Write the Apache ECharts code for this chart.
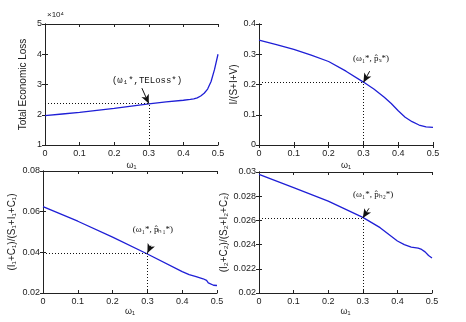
<!DOCTYPE html>
<html>
<head>
<meta charset="utf-8">
<script src="https://cdn.jsdelivr.net/npm/echarts@6/dist/echarts.min.js"></script>
<style>
  html, body { margin: 0; padding: 0; background: #fff; }
  #chart { width: 466px; height: 322px; }
</style>
</head>
<body>
<div id="chart"></div>
<script>
// 各子图数据 (ω1 取值与对应的纵坐标)
const omegaLoss = [0, 0.05, 0.1, 0.15, 0.2, 0.25, 0.3, 0.35, 0.4, 0.42, 0.43, 0.44, 0.45, 0.46, 0.47, 0.48, 0.49, 0.5];
const totalLoss = [1.97, 2.025, 2.08, 2.145, 2.21, 2.285, 2.36, 2.425, 2.48, 2.505, 2.525, 2.56, 2.62, 2.71, 2.85, 3.1, 3.5, 4.0]; // ×10^4

const omegaPs = [0, 0.05, 0.1, 0.15, 0.2, 0.25, 0.3, 0.33, 0.36, 0.38, 0.4, 0.42, 0.44, 0.46, 0.48, 0.5];
const infectedRatio = [0.347, 0.332, 0.316, 0.297, 0.276, 0.244, 0.208, 0.185, 0.158, 0.137, 0.113, 0.092, 0.077, 0.066, 0.06, 0.058];

const omegaH1 = [0, 0.1, 0.2, 0.3, 0.4, 0.42, 0.44, 0.46, 0.47, 0.475, 0.48, 0.49, 0.5];
const ratioH1 = [0.0625, 0.0553, 0.0475, 0.0392, 0.0305, 0.029, 0.028, 0.027, 0.0262, 0.025, 0.0243, 0.0238, 0.0237];

const omegaH2 = [0, 0.1, 0.2, 0.3, 0.35, 0.4, 0.42, 0.44, 0.46, 0.47, 0.48, 0.49, 0.5];
const ratioH2 = [0.0298, 0.0287, 0.0276, 0.02625, 0.0254, 0.0243, 0.024, 0.0238, 0.0237, 0.0236, 0.0234, 0.0231, 0.0229];

// 最优点 ω1* 与对应值
const omegaStar = 0.3;
const starValues = [2.37, 0.207, 0.0397, 0.0262];
const starLabels = ['(ω₁*,TELoss*)', '(ω₁*, p̂ₛ*)', '(ω₁*, p̂ₕ₁*)', '(ω₁*, p̂ₕ₂*)'];
const yNames = ['Total Economic Loss', 'I/(S+I+V)', '(I₁+C₁)/(S₁+I₁+C₁)', '(I₂+C₂)/(S₂+I₂+C₂)'];
const yRanges = [[1, 5, 1], [0, 0.4, 0.1], [0.02, 0.08, 0.02], [0.02, 0.03, 0.002]];

const chart = echarts.init(document.getElementById('chart'));

const grids = [
  { left: 45, top: 24, width: 173, height: 121 },
  { left: 259, top: 24, width: 174, height: 121 },
  { left: 43, top: 171, width: 174, height: 122 },
  { left: 259, top: 172, width: 173, height: 121 },
];
// 注释文字与箭头起点的位置
const notePos = [[0.295, 3.12], [0.322, 0.285], [0.316, 0.0512], [0.33, 0.0281]];
const arrowStart = [[0.28, 2.88], [0.318, 0.244], [0.31, 0.0433], [0.318, 0.027]];
const yNameGap = [17, 18, 26, 27];
const xNameGap = [16, 16, 12, 12];

const font = 'Liberation Sans, Arial, sans-serif';
const xAxes = [];
const yAxes = [];
const series = [];
const dataSets = [[omegaLoss, totalLoss], [omegaPs, infectedRatio], [omegaH1, ratioH1], [omegaH2, ratioH2]];

grids.forEach((g, i) => {
  const axisLine = { show: true, lineStyle: { color: '#222', width: 1 } };
  const axisTick = { show: true, inside: true, length: 3, lineStyle: { color: '#222' } };
  xAxes.push({
    gridIndex: i, type: 'value', min: 0, max: 0.5, interval: 0.1,
    axisLine, axisTick, splitLine: { show: false },
    axisLabel: { fontSize: 9, color: '#222', fontFamily: font, margin: 4 },
    name: 'ω₁', nameLocation: 'middle', nameGap: xNameGap[i],
    nameTextStyle: { fontSize: 9, color: '#222', fontFamily: font },
  });
  xAxes.push({
    gridIndex: i, type: 'value', min: 0, max: 0.5, interval: 0.1, position: 'top',
    axisLine, axisTick, axisLabel: { show: false }, splitLine: { show: false },
  });
  const r = yRanges[i];
  yAxes.push({
    gridIndex: i, type: 'value', min: r[0], max: r[1], interval: r[2],
    axisLine, axisTick, splitLine: { show: false },
    axisLabel: { fontSize: 9, color: '#222', fontFamily: font, margin: 3 },
    name: yNames[i], nameLocation: 'middle', nameGap: yNameGap[i],
    nameTextStyle: { fontSize: 10, color: '#222', fontFamily: font },
  });
  yAxes.push({
    gridIndex: i, type: 'value', min: r[0], max: r[1], interval: r[2], position: 'right',
    axisLine, axisTick, axisLabel: { show: false }, splitLine: { show: false },
  });

  const xs = dataSets[i][0];
  const ys = dataSets[i][1];
  const y0 = starValues[i];
  series.push({
    type: 'line',
    xAxisIndex: 2 * i,
    yAxisIndex: 2 * i,
    data: xs.map((x, k) => [x, ys[k]]),
    smooth: false,
    showSymbol: false,
    lineStyle: { color: '#1f1fd6', width: 1.3 },
    markLine: {
      silent: true,
      symbol: 'none',
      label: { show: false },
      lineStyle: { color: '#111', type: [1, 2], width: 1 },
      data: [
        [{ coord: [0, y0] }, { coord: [omegaStar, y0] }],
        [{ coord: [omegaStar, r[0]] }, { coord: [omegaStar, y0] }],
        [
          { coord: arrowStart[i], symbol: 'none', lineStyle: { type: 'solid', width: 1 } },
          { coord: [omegaStar, y0], symbol: 'arrow', symbolSize: [6, 9] },
        ],
      ],
    },
    markPoint: {
      silent: true,
      symbol: 'rect',
      symbolSize: 1,
      itemStyle: { color: 'rgba(0,0,0,0)' },
      label: {
        show: true, position: 'inside', color: '#111', fontSize: 9,
        fontFamily: i === 0 ? 'Liberation Mono, monospace' : 'Liberation Serif, serif',
      },
      data: [{ coord: notePos[i], value: starLabels[i], label: { formatter: starLabels[i] } }],
    },
  });
});

chart.setOption({
  backgroundColor: '#fff',
  animation: false,
  grid: grids,
  xAxis: xAxes,
  yAxis: yAxes,
  series,
  graphic: [
    { type: 'text', left: 47, top: 11, style: { text: '×10⁴', fontSize: 8, fill: '#222', fontFamily: font } },
  ],
});
</script>
</body>
</html>
